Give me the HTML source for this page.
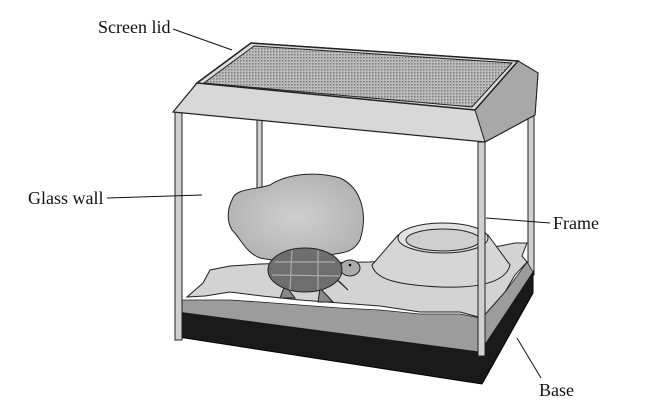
<!DOCTYPE html>
<html><head><meta charset="utf-8"><style>
html,body{margin:0;padding:0;background:#fff;}
svg{display:block;}
text{font-family:"Liberation Serif","DejaVu Serif","Times New Roman",serif;font-size:18px;fill:#111;}
</style></head><body>
<svg width="661" height="417" viewBox="0 0 661 417">
<defs>
<pattern id="mesh" width="3" height="3" patternUnits="userSpaceOnUse">
<rect width="3" height="3" fill="#bdbdbd"/><rect width="1.5" height="1.5" fill="#7a7a7a"/>
</pattern>
<radialGradient id="rockg" cx="0.5" cy="0.5" r="0.6"><stop offset="0" stop-color="#cfcfcf"/><stop offset="1" stop-color="#b0b0b0"/></radialGradient>
</defs>
<rect x="257" y="115" width="5" height="80" fill="#d0d0d0" stroke="#222" stroke-width="1"/>
<rect x="528" y="100" width="6" height="175" fill="#d0d0d0" stroke="#222" stroke-width="1"/>
<g>
<polygon points="178,312 480,352 533,272 533,293 482,384 178,337" fill="#1a1a1a" stroke="#000"/>
</g>
<g>
<polygon points="180,300 230,300 260,302 300,305 340,308 380,310 420,314 460,314 480,318 505,292 520,272 527,262 533,272 480,352 178,312" fill="#9c9c9c" stroke="#222" stroke-width="0.8"/>
<polygon points="187,297 203,283 210,270 230,266 260,264 300,263 370,262 420,258 470,250 500,246 515,243 527,243 522,256 527,262 515,275 505,292 482,318 460,312 420,312 380,306 340,303 300,300 262,296 230,292 205,296" fill="#d3d3d3" stroke="#222" stroke-width="1"/>
</g>
<path d="M232,200 C235,188 255,190 270,185 C290,172 320,172 340,178 C362,188 368,215 360,240 C352,255 340,252 325,256 C300,262 280,262 260,258 C245,252 242,240 232,230 C226,220 228,208 232,200 Z" fill="url(#rockg)" stroke="#222" stroke-width="1"/>
<g>
<path d="M372,265 L398,235 L488,235 L510,265 C505,285 470,288 440,287 C400,285 375,280 372,265 Z" fill="#d6d6d6" stroke="#222" stroke-width="1"/>
<ellipse cx="443" cy="238" rx="45" ry="15" fill="#e2e2e2" stroke="#222" stroke-width="1"/>
<ellipse cx="443" cy="240" rx="37" ry="11" fill="#cfcfcf" stroke="#222" stroke-width="1"/>
</g>
<g>
<ellipse cx="350" cy="268" rx="10" ry="8" fill="#aaa" stroke="#222"/>
<circle cx="350" cy="265" r="1.3" fill="#000"/>
<path d="M285,285 L280,298 L295,298 Z M320,288 L318,302 L333,302 Z M335,278 L348,290 L340,282 Z" fill="#888" stroke="#222"/>
<ellipse cx="305" cy="270" rx="37" ry="22" fill="#6e6e6e" stroke="#222"/>
<path d="M275,262 L335,262 M272,275 L340,276 M292,250 L290,290 M318,250 L318,290" stroke="#aaa" stroke-width="1.2" fill="none"/>
</g>
<rect x="175" y="112" width="7" height="228" fill="#d0d0d0" stroke="#222" stroke-width="1"/>
<rect x="478" y="142" width="7" height="214" fill="#d0d0d0" stroke="#222" stroke-width="1"/>
<g>
<polygon points="251,43 518,61 538,73 535,115 485,142 173,112 197,83" fill="#d8d8d8" stroke="#222" stroke-width="1.2"/>
<polygon points="518,61 538,73 535,115 485,142 475,110" fill="#a8a8a8" stroke="#222" stroke-width="1"/>
<polygon points="251,43 518,61 475,110 197,83" fill="#dcdcdc" stroke="#222" stroke-width="1.5"/>
<polygon points="254,46 512,63 472,107 204,83" fill="url(#mesh)" stroke="#222" stroke-width="1"/>
</g>
<text x="98" y="33" font-family="Liberation Serif, serif">Screen lid</text>
<line x1="173" y1="29" x2="232" y2="50" stroke="#111" stroke-width="1"/>
<text x="28" y="204" font-family="Liberation Serif, serif">Glass wall</text>
<line x1="107" y1="198" x2="202" y2="195" stroke="#111" stroke-width="1"/>
<text x="553" y="229" font-family="Liberation Serif, serif">Frame</text>
<line x1="486" y1="218" x2="550" y2="223" stroke="#111" stroke-width="1"/>
<text x="539" y="396" font-family="Liberation Serif, serif">Base</text>
<line x1="517" y1="338" x2="541" y2="378" stroke="#111" stroke-width="1"/>
</svg>
</body></html>
